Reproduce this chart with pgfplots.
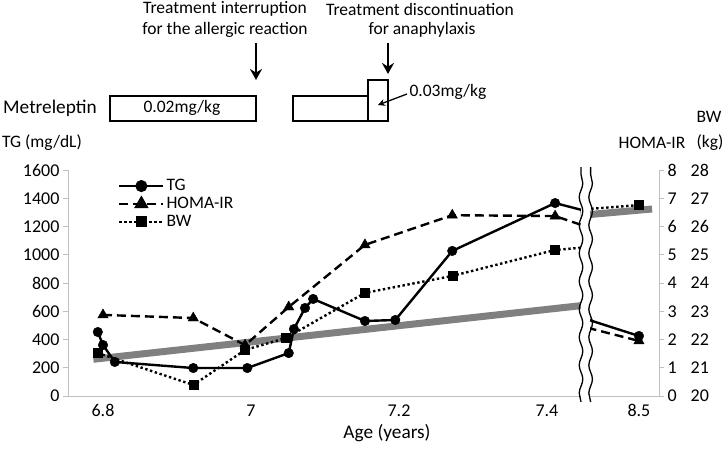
\documentclass[border=0pt]{standalone}
\usepackage{pgfplots}
\pgfplotsset{compat=1.18}
\usepackage{fontspec}
\setmainfont{Carlito}
\usetikzlibrary{arrows.meta,decorations.pathmorphing}
\begin{document}
\begin{tikzpicture}[font=\fontsize{17.5}{21}\selectfont]
\useasboundingbox (-68pt,-52pt) rectangle (656pt,396pt);
\pgfplotsset{
 base/.style={at={(0pt,0pt)}, anchor=south west, scale only axis, width=591pt, height=226pt,
   xmin=6.7527, xmax=7.5514, clip=false},
 tl/.style={ticklabel style={font=\fontsize{18}{21}\selectfont},
   /pgf/number format/assume math mode=true, /pgf/number format/1000 sep={}},
}
% gray reference lines (BW scale)
\begin{axis}[base, hide axis, ymin=20, ymax=28]
\addplot[black!50, line width=7pt, forget plot] coordinates {(6.787,21.30) (7.450,23.21)};
\addplot[black!50, line width=7pt, forget plot] coordinates {(7.456,26.42) (7.542,26.62)};
\end{axis}
% TG axis (left)
\begin{axis}[base, tl, ymin=0, ymax=1600,
  axis x line*=bottom, axis y line*=left,
  axis line style={draw=black!25, line width=0.8pt, -},
  xtick={6.8,7,7.2,7.4,7.5243}, xticklabels={6.8,7,7.2,7.4,8.5},
  ytick={0,200,...,1600}, tick align=outside,
  xtick style={draw=none}, ytick style={draw=black!25, line width=0.8pt},
  major tick length=5pt]
\addplot[black, line width=2.4pt, line join=round, forget plot] coordinates {
 (6.793,453) (6.800,361) (6.816,241) (6.922,198) (6.995,198) (7.051,304) (7.058,474)
 (7.073,623) (7.084,687) (7.154,531) (7.195,538) (7.272,1027) (7.411,1366)
 (7.447,1317) (7.457,538) (7.5243,425)};
\addplot[black, only marks, mark=*, mark size=4.8pt, forget plot] coordinates {
 (6.793,453) (6.800,361) (6.816,241) (6.922,198) (6.995,198) (7.051,304) (7.058,474)
 (7.073,623) (7.084,687) (7.154,531) (7.195,538) (7.272,1027) (7.411,1366) (7.5243,425)};
\end{axis}
% HOMA-IR axis (right)
\begin{axis}[base, tl, ymin=0, ymax=8,
  axis y line*=right, axis x line=none,
  axis line style={draw=black!25, line width=0.8pt, -},
  ytick={0,...,8},
  yticklabels={0\hspace{14pt}20,1\hspace{14pt}21,2\hspace{14pt}22,3\hspace{14pt}23,4\hspace{14pt}24,5\hspace{14pt}25,6\hspace{14pt}26,7\hspace{14pt}27,8\hspace{14pt}28},
  tick align=outside, ytick style={draw=black!25, line width=0.8pt}, major tick length=5pt]
\addplot[black, line width=2.4pt, dash pattern=on 9pt off 5pt, line join=round, forget plot] coordinates {
 (6.800,2.87) (6.922,2.76) (6.992,1.80) (7.051,3.15) (7.154,5.35) (7.272,6.40) (7.411,6.37)
 (7.447,6.05) (7.457,2.40) (7.5243,1.95)};
\addplot[black, only marks, mark=triangle*, mark size=6pt, forget plot] coordinates {
 (6.800,2.87) (6.922,2.76) (6.992,1.80) (7.051,3.15) (7.154,5.35) (7.272,6.40) (7.411,6.37) (7.5243,1.95)};
\end{axis}
% BW (hidden, 20-28), break, legend
\begin{axis}[base, hide axis, ymin=20, ymax=28,
  legend style={draw=none, fill=none, at={(0.0795,0.976)}, anchor=north west,
    font=\fontsize{17.5}{21}\selectfont, row sep=1pt},
  legend cell align=left,
  legend image code/.code={\draw[#1,mark repeat=2,mark phase=2] plot coordinates {(0pt,0pt) (22pt,0pt) (44pt,0pt)};}]
\addplot[black, line width=2.4pt, dash pattern=on 2.4pt off 2.6pt, line join=round, forget plot] coordinates {
 (6.793,21.52) (6.922,20.39) (6.992,21.63) (7.047,22.05) (7.154,23.65) (7.272,24.25) (7.411,25.17)
 (7.447,25.25) (7.457,26.62) (7.5243,26.76)};
\addplot[black, only marks, mark=square*, mark size=4.5pt, forget plot] coordinates {
 (6.793,21.52) (6.922,20.39) (6.992,21.63) (7.047,22.05) (7.154,23.65) (7.272,24.25) (7.411,25.17) (7.5243,26.76)};
\fill[white] (axis cs:7.4465,19.75) rectangle (axis cs:7.4585,28.15);
\draw[black, line width=1.3pt, decorate, decoration={snake, amplitude=1.8pt, segment length=28pt}]
  (axis cs:7.446,19.79) -- (axis cs:7.446,28.1);
\draw[black, line width=1.3pt, decorate, decoration={snake, amplitude=1.8pt, segment length=28pt}]
  (axis cs:7.459,19.79) -- (axis cs:7.459,28.1);
\addlegendimage{black, line width=2.4pt, mark=*, mark size=4.8pt}
\addlegendentry{TG}
\addlegendimage{black, line width=2.4pt, dash pattern=on 9pt off 5pt, mark=triangle*, mark size=6pt, mark options={solid}}
\addlegendentry{HOMA-IR}
\addlegendimage{black, line width=2.4pt, dash pattern=on 2.4pt off 2.6pt, mark=square*, mark size=4.5pt, mark options={solid}}
\addlegendentry{BW}
\end{axis}
% axis titles
\node at (-26pt,253pt) {TG (mg/dL)};
\node at (584pt,253pt) {HOMA-IR};
\node at (642pt,253pt) {(kg)};
\node at (641pt,279pt) {BW};
\node[font=\fontsize{19.3}{23}\selectfont] at (319pt,-37pt) {Age (years)};
% treatment annotations
\node[font=\fontsize{19.3}{23}\selectfont] at (-18pt,288pt) {Metreleptin};
\draw[line width=2pt] (42pt,275pt) rectangle (188pt,300pt);
\node at (114pt,288pt) {0.02mg/kg};
\draw[line width=2pt] (225pt,275pt) rectangle (300pt,300pt);
\draw[line width=2pt] (300pt,275pt) rectangle (320pt,316pt);
\node at (380pt,304pt) {0.03mg/kg};
\draw[line width=1.3pt, -{Stealth[length=7pt,width=7pt]}] (339pt,302pt) -- (310pt,291pt);
\draw[line width=2pt, -{Stealth[length=11pt,width=12pt]}] (188pt,353pt) -- (188pt,316pt);
\draw[line width=2pt, -{Stealth[length=11pt,width=12pt]}] (320pt,353pt) -- (320pt,322pt);
\node at (157pt,387pt) {Treatment interruption};
\node at (157pt,366pt) {for the allergic reaction};
\node at (352pt,387pt) {Treatment discontinuation};
\node at (354pt,366pt) {for anaphylaxis};
\end{tikzpicture}
\end{document}
